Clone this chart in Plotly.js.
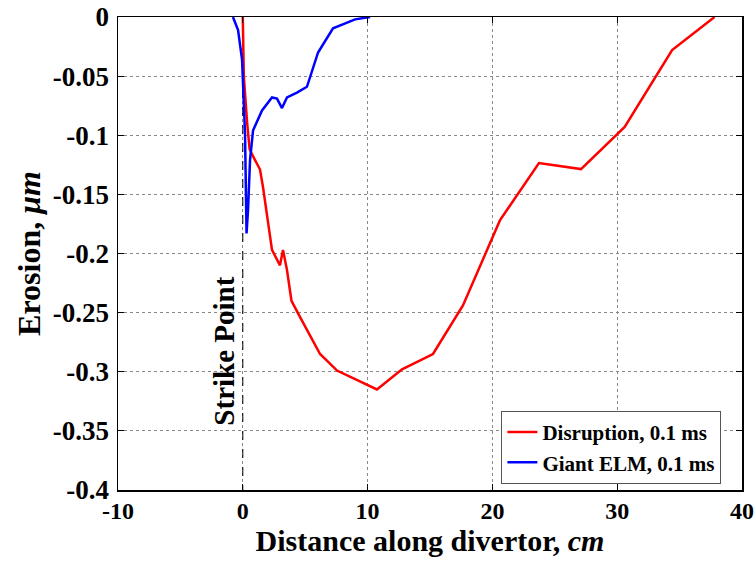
<!DOCTYPE html>
<html>
<head>
<meta charset="utf-8">
<script src="https://cdn.plot.ly/plotly-3.0.1.min.js"></script>
<style>html,body{margin:0;padding:0;background:#fff;}#chart{width:755px;height:562px;}</style>
</head>
<body>
<div id="chart"></div>
<script>
var disruptionX = [0, 0.08, 0.35, 0.55, 0.98, 1.38, 1.62, 2.02, 2.34, 2.98, 3.22, 3.54, 3.9, 4.6, 6.19, 7.55, 10.75, 12.76, 15.24, 17.64, 20.6, 23.73, 27.1, 30.6, 34.4, 37.8];
var disruptionY = [0, -0.05, -0.09, -0.112, -0.121, -0.129, -0.144, -0.174, -0.197, -0.21, -0.197, -0.214, -0.24, -0.254, -0.285, -0.299, -0.315, -0.298, -0.285, -0.244, -0.172, -0.1235, -0.1286, -0.093, -0.028, 0];
var elmX = [-0.79, -0.38, -0.06, 0.18, 0.3, 0.34, 0.42, 0.58, 0.82, 1.54, 2.34, 2.74, 3.14, 3.54, 4.34, 5.14, 6.03, 7.23, 8.35, 9.0, 10.2];
var elmY = [0, -0.011, -0.036, -0.1, -0.183, -0.17, -0.163, -0.121, -0.096, -0.079, -0.068, -0.069, -0.077, -0.068, -0.064, -0.059, -0.030, -0.0095, -0.005, -0.002, 0];
var strikeX = [0, 0];
var strikeY = [0, -0.4];
var xTicks = [-10, 0, 10, 20, 30, 40];
var yTicks = [0, -0.05, -0.1, -0.15, -0.2, -0.25, -0.3, -0.35, -0.4];

var fontFam = '"Liberation Serif", "Times New Roman", serif';
var traces = [
  {x: strikeX, y: strikeY, mode: 'lines', line: {color: '#000', width: 1, dash: 'dash'}, showlegend: false, hoverinfo: 'skip'},
  {x: disruptionX, y: disruptionY, mode: 'lines', name: 'Disruption, 0.1 ms', line: {color: '#ff0000', width: 2.5}},
  {x: elmX, y: elmY, mode: 'lines', name: 'Giant ELM, 0.1 ms', line: {color: '#0000ff', width: 2.5}}
];
var axisCommon = {
  showline: true, mirror: 'ticks', linecolor: '#000', linewidth: 1.5,
  ticks: 'inside', ticklen: 6, tickcolor: '#000', tickwidth: 1,
  showgrid: true, gridcolor: '#888', griddash: 'dot', gridwidth: 1,
  zeroline: false
};
var layout = {
  width: 755, height: 562,
  margin: {l: 118, r: 13, t: 17, b: 72},
  paper_bgcolor: '#fff', plot_bgcolor: '#fff',
  showlegend: true,
  xaxis: Object.assign({}, axisCommon, {
    range: [-10, 40], tickvals: xTicks, ticktext: xTicks.map(String), ticklabelstandoff: -1,
    tickfont: {family: fontFam, size: 24, color: '#000', weight: 'bold'},
    title: {text: 'Distance along divertor, <i>cm</i>', font: {family: fontFam, size: 30, color: '#000', weight: 'bold'}, standoff: 2}
  }),
  yaxis: Object.assign({}, axisCommon, {
    range: [-0.4, 0], tickvals: yTicks, ticktext: yTicks.map(String), ticklabelstandoff: 2,
    tickfont: {family: fontFam, size: 27, color: '#000', weight: 'bold'},
    title: {text: 'Erosion, <i>μm</i>', font: {family: fontFam, size: 32, color: '#000', weight: 'bold'}, standoff: 2}
  }),
  legend: {
    x: 0.967, y: 0.013, xanchor: 'right', yanchor: 'bottom',
    bgcolor: '#fff', bordercolor: '#555', borderwidth: 1,
    font: {family: fontFam, size: 21, color: '#000', weight: 'bold'},
    tracegroupgap: 0
  },
  annotations: [{
    x: 0, y: -0.347, xref: 'x', yref: 'y', text: 'Strike Point', textangle: -90,
    showarrow: false, xanchor: 'right', yanchor: 'bottom', xshift: -1,
    font: {family: fontFam, size: 29, color: '#000', weight: 'bold'}
  }]
};
Plotly.newPlot('chart', traces, layout, {displayModeBar: false, staticPlot: true});
</script>
</body>
</html>
